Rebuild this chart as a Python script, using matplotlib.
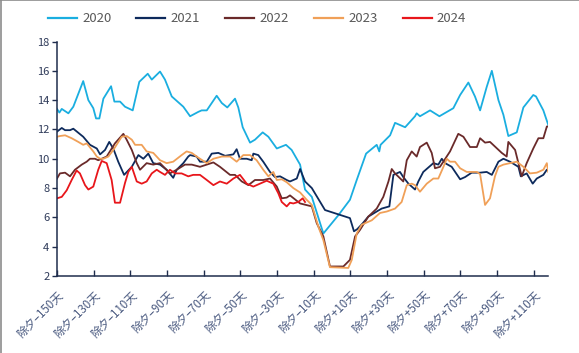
import matplotlib
matplotlib.use("Agg")
import matplotlib.pyplot as plt
from matplotlib.lines import Line2D

plt.rcParams['font.family'] = ['Noto Sans CJK SC', 'DejaVu Sans']

# ---------------- data ----------------
days_2020 = [-150, -148.7, -147.4, -143.8, -141.1, -135.7, -132.9, -130.2, -128.7, -126.9, -124.7, -120.5,
             -118.7, -115.6, -112.9, -108.7, -105.1, -100.5, -98.3, -93.8, -91.1, -87.4, -81.1, -77.4,
             -72.9, -71.1, -68.3, -62.9, -60.1, -57.1, -52.9, -51.1, -48.7, -44.7, -42.0, -37.8, -34.7,
             -30.1, -25.1, -22.0, -17.4, -14.7, -11.0, -4.7, 3.5, 9.8, 13.5, 18.6, 24.4, 25.8, 26.5,
             31.7, 34.4, 39.9, 45.3, 46.2, 48.0, 53.5, 58.6, 66.2, 69.9, 74.4, 78.0, 80.8, 84.4, 87.2,
             90.8, 93.5, 96.2, 100.8, 104.4, 109.8, 111.3, 115.3, 118.0]
vals_2020 = [13.4, 13.15, 13.4, 13.1, 13.55, 15.3, 14.0, 13.45, 12.75, 12.75, 14.1, 14.95,
             13.9, 13.9, 13.55, 13.3, 15.25, 15.8, 15.4, 15.95, 15.4, 14.25, 13.55, 12.9,
             13.2, 13.3, 13.3, 14.3, 13.8, 13.5, 14.1, 13.5, 12.15, 11.1, 11.3, 11.8, 11.5,
             10.7, 10.95, 10.6, 9.6, 7.9, 7.4, 4.9, 6.15, 7.2, 8.55, 10.35, 10.95, 10.5, 10.95,
             11.6, 12.45, 12.15, 12.9, 13.1, 12.9, 13.3, 12.9, 13.45, 14.35, 15.2, 14.25, 13.3, 14.9, 16.0,
             14.0, 13.0, 11.55, 11.8, 13.5, 14.35, 14.25, 13.3, 12.3]

days_2021 = [-150, -147.4, -145.6, -142.9, -141.1, -135.7, -132.0, -128.3, -126.5, -123.8, -121.5, -119.3,
             -116.6, -113.4, -109.2, -105.6, -102.9, -100.2, -97.5, -93.8, -90.2, -86.6, -84.7, -81.1,
             -78.4, -77.4, -73.8, -72.0, -68.3, -65.6, -62.0, -58.3, -53.8, -52.0, -50.2, -46.5, -43.8,
             -42.9, -40.2, -37.5, -33.8, -31.1, -28.3, -24.7, -22.9, -19.2, -17.4, -14.7, -11.0, -3.8,
             9.8, 12.0, 13.8, 16.8, 19.8, 24.4, 27.1, 31.3, 33.5, 37.1, 38.9, 41.7, 45.3, 47.1, 49.8,
             55.3, 58.0, 59.9, 61.7, 65.3, 69.9, 72.6, 76.2, 80.8, 84.4, 87.2, 90.8, 93.5, 97.1, 101.7,
             103.0, 106.2, 109.5, 111.7, 115.3, 117.2, 118.0]
vals_2021 = [11.85, 12.1, 11.95, 11.95, 12.05, 11.5, 10.95, 10.7, 10.3, 10.6, 11.15, 10.7,
             9.8, 8.9, 9.45, 10.25, 10.0, 10.35, 9.7, 9.6, 9.25, 8.7, 9.25, 9.7,
             10.15, 10.25, 10.15, 9.8, 9.8, 10.35, 10.4, 10.2, 10.3, 10.65, 10.0, 10.0, 9.9,
             10.35, 10.25, 9.8, 9.1, 8.75, 8.8, 8.55, 8.45, 8.65, 9.3, 8.45, 8.0, 6.5,
             5.95, 5.05, 5.2, 5.6, 6.05, 6.4, 6.6, 6.75, 8.9, 9.1, 8.75, 8.3, 7.9, 8.45, 9.1,
             9.7, 9.6, 10.0, 9.7, 9.45, 8.6, 8.75, 9.05, 9.05, 9.1, 8.9, 9.8, 10.0, 9.8, 9.45,
             8.8, 9.0, 8.3, 8.65, 8.9, 9.25, 9.2]

days_2022 = [-150, -148.4, -145.6, -142.9, -140.2, -136.5, -133.8, -132.0, -129.3, -127.5, -125.6, -122.9,
             -118.4, -113.8, -112.0, -109.2, -106.5, -104.7, -101.1, -97.5, -93.8, -91.1, -88.4, -84.7,
             -80.2, -76.5, -72.0, -68.3, -64.7, -61.1, -55.6, -52.9, -49.2, -45.6, -42.0, -37.5, -33.8,
             -30.1, -27.4, -24.7, -22.9, -17.4, -11.0, -8.3, -4.7, -1.1, 6.2, 9.8, 12.6, 15.3, 19.8,
             24.4, 28.0, 30.8, 32.6, 34.4, 38.9, 40.8, 43.5, 46.2, 48.0, 51.7, 54.4, 56.2, 58.9, 64.4,
             68.9, 71.7, 75.3, 79.0, 80.8, 83.5, 86.2, 92.6, 95.3, 96.2, 99.9, 103.5, 106.2, 109.8,
             112.6, 115.3, 117.2, 118.0]
vals_2022 = [8.65, 9.0, 9.05, 8.8, 9.25, 9.6, 9.8, 10.0, 10.0, 9.9, 10.0, 10.15,
             11.05, 11.7, 11.3, 10.6, 9.7, 9.25, 9.7, 9.6, 9.7, 9.35, 9.0, 9.25,
             9.6, 9.6, 9.45, 9.6, 9.75, 9.45, 8.9, 8.9, 8.45, 8.2, 8.55, 8.55, 8.65,
             8.1, 7.3, 7.35, 7.5, 6.95, 6.75, 5.6, 4.7, 2.65, 2.65, 3.1, 4.7, 5.15, 6.05,
             6.6, 7.4, 8.45, 9.3, 9.0, 8.45, 9.9, 10.5, 10.15, 10.8, 11.1, 10.4, 9.35, 9.45, 10.5,
             11.7, 11.5, 10.8, 10.8, 11.4, 11.1, 11.15, 10.4, 10.15, 11.15, 10.6, 8.8, 9.7, 10.7,
             11.4, 11.4, 12.2, 12.2]

days_2023 = [-150, -148.4, -145.6, -142.0, -138.4, -135.7, -133.8, -130.2, -128.3, -126.5, -124.7, -122.0,
             -119.3, -114.7, -112.0, -109.2, -107.4, -103.8, -101.1, -97.5, -93.8, -90.2, -86.6, -82.0,
             -79.3, -76.5, -73.8, -72.0, -68.3, -64.7, -60.1, -55.6, -52.0, -48.4, -44.7, -41.1, -37.5,
             -34.7, -32.0, -30.1, -27.4, -24.7, -21.1, -17.4, -13.8, -11.0, -7.4, -4.7, -1.1, 8.9,
             10.8, 13.5, 16.2, 21.7, 26.2, 29.9, 34.4, 38.0, 40.8, 43.5, 45.3, 48.0, 51.7, 55.3, 58.0,
             60.8, 62.6, 64.4, 67.1, 69.9, 73.5, 79.0, 80.8, 83.5, 86.2, 88.9, 90.8, 93.5, 97.1, 100.8,
             104.4, 108.0, 111.7, 115.3, 117.2, 118.0]
vals_2023 = [11.5, 11.55, 11.6, 11.4, 11.15, 10.95, 11.05, 10.5, 10.15, 10.0, 10.0, 10.15,
             10.6, 11.5, 11.55, 11.3, 10.95, 10.95, 10.5, 10.4, 9.9, 9.7, 9.8, 10.25,
             10.5, 10.4, 10.15, 10.0, 9.7, 10.0, 10.15, 10.15, 9.8, 10.25, 10.25, 9.9, 9.25,
             8.8, 9.1, 8.55, 8.6, 8.4, 8.0, 7.7, 7.2, 6.85, 5.35, 4.45, 2.6, 2.55,
             3.1, 4.9, 5.5, 5.8, 6.3, 6.4, 6.6, 7.05, 8.2, 8.3, 8.2, 7.75, 8.3, 8.65, 8.65,
             9.45, 10.0, 9.8, 9.8, 9.35, 9.1, 9.1, 8.95, 6.85, 7.3, 8.8, 9.45, 9.6, 9.7, 9.8,
             9.45, 9.0, 9.05, 9.25, 9.7, 9.1]

days_2024 = [-150, -147.4, -144.7, -142.0, -139.3, -137.5, -134.7, -132.9, -130.2, -127.5, -125.6, -122.9,
             -120.2, -118.4, -115.6, -112.9, -111.1, -109.2, -106.5, -103.8, -101.1, -98.3, -95.6, -93.8,
             -91.1, -88.4, -85.6, -82.0, -78.4, -75.7, -72.0, -68.3, -64.7, -61.1, -57.4, -53.8, -50.2,
             -46.5, -42.9, -39.3, -35.6, -32.0, -29.3, -27.4, -24.7, -22.9, -21.1, -18.4, -16.0, -14.7]
vals_2024 = [7.3, 7.4, 7.85, 8.55, 9.2, 9.0, 8.2, 7.9, 8.1, 9.25, 9.85, 9.7,
             8.55, 7.0, 7.0, 8.35, 9.1, 9.45, 8.45, 8.3, 8.45, 9.0, 9.25, 9.1,
             8.9, 9.25, 9.0, 9.0, 8.8, 8.9, 8.9, 8.55, 8.2, 8.45, 8.3, 8.65, 8.9,
             8.3, 8.1, 8.3, 8.5, 8.3, 7.65, 7.05, 6.75, 7.0, 6.95, 7.05, 7.3, 7.05]

series_names = ['2020', '2021', '2022', '2023', '2024']
series_colors = ['#1aaee0', '#0d2a5c', '#6a2a2a', '#f0a058', '#e8161b']

tick_days = [-150, -130, -110, -90, -70, -50, -30, -10, 10, 30, 50, 70, 90, 110]
tick_labels = ['除夕–150天', '除夕–130天', '除夕–110天', '除夕–90天', '除夕–70天', '除夕–50天',
               '除夕–30天', '除夕–10天', '除夕+10天', '除夕+30天', '除夕+50天', '除夕+70天',
               '除夕+90天', '除夕+110天']
y_ticks = [2, 4, 6, 8, 10, 12, 14, 16, 18]

# ---------------- plot ----------------
W, H = 579, 353
fig = plt.figure(figsize=(W / 100, H / 100), dpi=100)
ax = fig.add_axes([57 / W, 1 - 276 / H, (548.3 - 57) / W, (276 - 41.5) / H])

all_days = [days_2020, days_2021, days_2022, days_2023, days_2024]
all_vals = [vals_2020, vals_2021, vals_2022, vals_2023, vals_2024]
for d, v, name, c in zip(all_days, all_vals, series_names, series_colors):
    ax.plot(d, v, color=c, lw=1.3, label=name, solid_joinstyle='round')

ax.set_xlim(-150, 118)
ax.set_ylim(2, 18)
ax.set_yticks(y_ticks)
ax.set_xticks(tick_days)
ax.set_xticklabels(tick_labels, rotation=45, ha='right', rotation_mode='anchor',
                   fontsize=8.3, color='#4a5a80')
ax.tick_params(axis='x', direction='in', length=4, width=1, color='#1f2d4d', pad=9)
ax.tick_params(axis='y', direction='out', length=3.5, width=1, color='#1f2d4d',
               labelsize=8, labelcolor='#2f3b5a', pad=2)
for s in ['top', 'right']:
    ax.spines[s].set_visible(False)
for s in ['left', 'bottom']:
    ax.spines[s].set_color('#1f2d4d')
    ax.spines[s].set_linewidth(1.1)

handles = [Line2D([0], [0], color=c, lw=1.6) for c in series_colors]
fig.legend(handles, series_names, loc='center', bbox_to_anchor=(257 / W, 1 - 19 / H), ncol=5,
           frameon=False, fontsize=9.5, handlelength=2.2, handletextpad=0.4, columnspacing=1.9,
           labelcolor='#595959')

# figure border (top and left)
fig.add_artist(Line2D([0, 1], [0.999, 0.999], transform=fig.transFigure, color='#8c8c8c', lw=1.2))
fig.add_artist(Line2D([0.001, 0.001], [0, 1], transform=fig.transFigure, color='#8c8c8c', lw=1.2))

fig.savefig('out.png', dpi=100)
